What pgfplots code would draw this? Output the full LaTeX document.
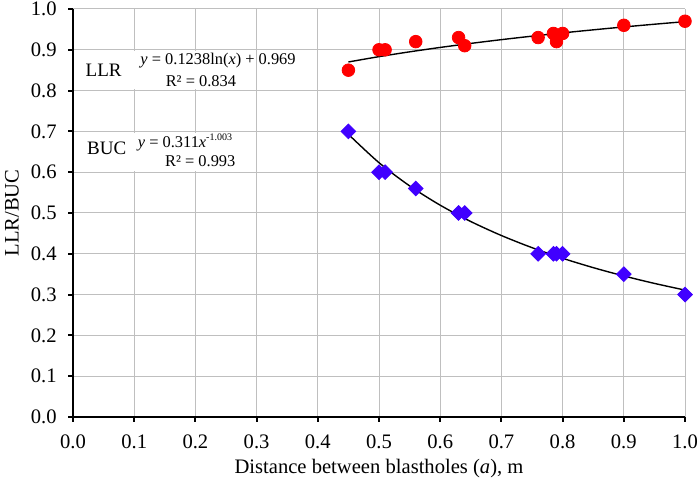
\documentclass[border=0pt]{standalone}
\usepackage{fontspec}
\setmainfont{Liberation Serif}
\usepackage{pgfplots}
\pgfplotsset{compat=1.18}
\definecolor{bucblue}{RGB}{64,0,255}
\definecolor{gridgray}{RGB}{191,191,191}
\begin{document}
\begin{tikzpicture}
\begin{axis}[
  name=ax,
  scale only axis, width=306pt, height=204pt,
  xmin=0, xmax=1, ymin=0, ymax=1,
  xtick={0,0.1,0.2,0.3,0.4,0.5,0.6,0.7,0.8,0.9,1.0},
  ytick={0,0.1,0.2,0.3,0.4,0.5,0.6,0.7,0.8,0.9,1.0},
  /pgf/number format/assume math mode=true,
  /pgf/number format/.cd, fixed, fixed zerofill, precision=1, /pgfplots/.cd,
  axis lines*=left, axis line style={-, line width=1pt, black},
  tick align=outside, major tick length=2.5pt, tick style={line width=1pt, black},
  grid=major, major grid style={gridgray, line width=0.5pt},
  ticklabel style={font=\fontsize{10.3}{12}\selectfont, inner sep=0pt},
  yticklabel style={xshift=-5.5pt},
  xticklabel style={yshift=-6pt},
  xlabel={Distance between blastholes (\textit{a}), m},
  ylabel={LLR/BUC},
  label style={font=\fontsize{10.3}{12}\selectfont, inner sep=0pt},
  xlabel style={at={(axis description cs:0.5,0)}, anchor=center, yshift=-26pt},
  ylabel style={at={(axis description cs:0,0.5)}, anchor=center, yshift=30.5pt},
  clip=false,
]
\fill[white] (axis cs:0.006,0.803) rectangle (axis cs:0.296,0.897);
\fill[white] (axis cs:0.006,0.603) rectangle (axis cs:0.296,0.697);

\addplot[only marks, mark=*, mark size=3.15pt, color=red, mark options={fill=red, draw=red}] coordinates {
(0.45,0.85) (0.50,0.90) (0.51,0.90) (0.56,0.92) (0.63,0.93) (0.64,0.91)
(0.76,0.93) (0.785,0.94) (0.79,0.92) (0.80,0.94) (0.90,0.96) (1.00,0.97)
};
\addplot[only marks, mark=square*, mark size=2.6pt, color=bucblue, mark options={fill=bucblue, draw=bucblue, rotate=45}] coordinates {
(0.45,0.70) (0.50,0.60) (0.51,0.60) (0.56,0.56) (0.63,0.50) (0.64,0.50)
(0.76,0.40) (0.785,0.40) (0.79,0.40) (0.80,0.40) (0.90,0.35) (1.00,0.30)
};
\addplot[black, line width=0.7pt, smooth, no marks] coordinates {
(0.45,0.87014) (0.50,0.88319) (0.55,0.89499) (0.60,0.90576) (0.65,0.91567)
(0.70,0.92484) (0.75,0.93339) (0.80,0.94138) (0.85,0.94888) (0.90,0.95596)
(0.95,0.96265) (1.00,0.969)
};
\addplot[black, line width=0.7pt, smooth, no marks] coordinates {
(0.45,0.69273) (0.50,0.62329) (0.55,0.56645) (0.60,0.51912) (0.65,0.47908)
(0.70,0.44476) (0.75,0.41503) (0.80,0.38901) (0.85,0.36606) (0.90,0.34567)
(0.95,0.32742) (1.00,0.311)
};

\node[font=\fontsize{9.5}{11}\selectfont] at (axis cs:0.05,0.849) {LLR};
\node[font=\fontsize{8.2}{10}\selectfont] at (axis cs:0.237,0.873) {\textit{y} = 0.1238ln(\textit{x}) + 0.969};
\node[font=\fontsize{8.2}{10}\selectfont] at (axis cs:0.209,0.824) {R² = 0.834};
\node[font=\fontsize{9.5}{11}\selectfont] at (axis cs:0.055,0.659) {BUC};
\node[font=\fontsize{8.2}{10}\selectfont] at (axis cs:0.183,0.672) {\textit{y} = 0.311\textit{x}\raisebox{0.9ex}{\fontsize{5}{5}\selectfont -1.003}};
\node[font=\fontsize{8.2}{10}\selectfont] at (axis cs:0.208,0.626) {R² = 0.993};
\end{axis}
\pgfresetboundingbox
\path[use as bounding box] ([xshift=-36.5pt,yshift=-31pt]ax.south west) rectangle ([xshift=7pt,yshift=4.5pt]ax.north east);
\end{tikzpicture}
\end{document}
